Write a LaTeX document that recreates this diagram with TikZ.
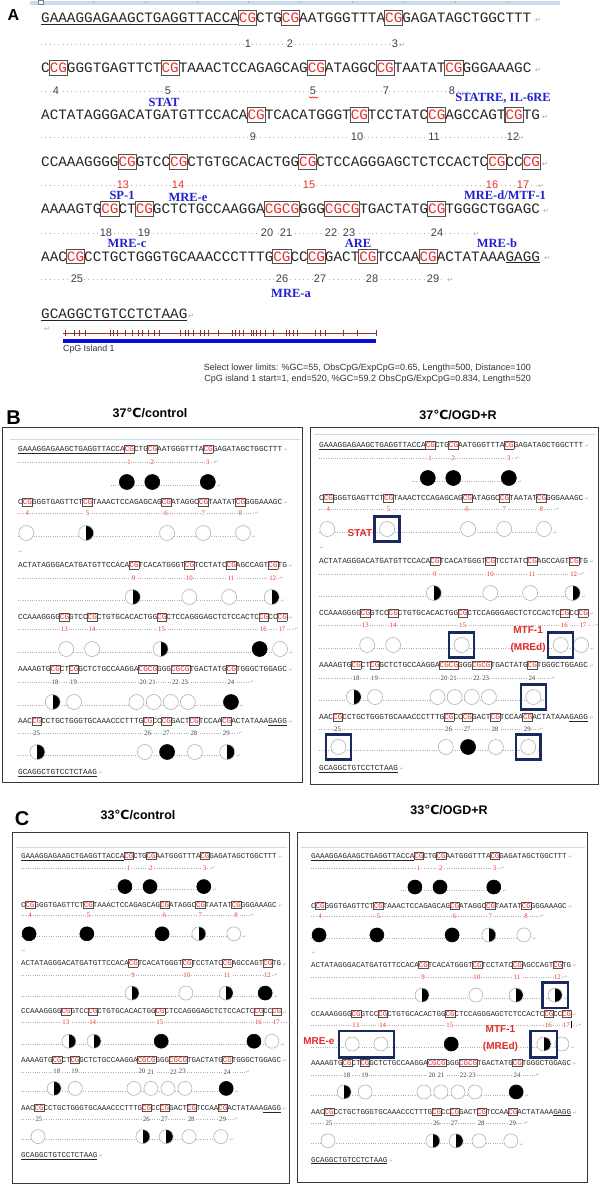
\documentclass[tikz,border=0pt]{standalone}
\usepackage{fontspec}
\setmainfont{Liberation Serif}
\newfontfamily\seqf{Liberation Mono}
\newfontfamily\sansf{Liberation Sans}
\newfontfamily\symf{DejaVu Sans}
\usetikzlibrary{fit,decorations.pathmorphing}
\definecolor{cgred}{HTML}{E8302A}
\definecolor{labred}{HTML}{E52A2A}
\definecolor{lblblue}{HTML}{2020D0}
\definecolor{navy}{HTML}{1B2A5E}
\definecolor{boxgray}{HTML}{505050}
\definecolor{dotgray}{HTML}{B0B0B0}
\definecolor{numgray}{HTML}{404040}
\definecolor{ltblue}{HTML}{C8DCF0}
\definecolor{rulerred}{HTML}{8B3030}
\definecolor{barblue}{HTML}{0A0ADC}

\newcommand\cgx[1]{\rlap{\color{boxgray}\setlength\fboxsep{0pt}\setlength\fboxrule{0.075em}\kern-0.075em\fbox{\rule[-0.13em]{0pt}{0.92em}\phantom{#1}}}\textcolor{cgred}{#1}}

\tikzset{
 seqA/.style={anchor=base west, inner sep=0, font=\seqf\fontsize{14.33}{16}\selectfont, text=black!85},
 numA/.style={font=\sansf\fontsize{11}{11}\selectfont, text=numgray, fill=white, inner sep=0.4pt},
 numAr/.style={numA, text=cgred},
 dotsA/.style={dotgray, line width=0.8pt, dash pattern=on 0.8pt off 3.5pt},
 retA/.style={font=\symf\fontsize{7}{7}\selectfont, text=gray!70, inner sep=0},
 blab/.style={font=\bfseries\fontsize{12.5}{12.5}\selectfont, text=lblblue, inner sep=0},
 mseq/.style={anchor=base west, inner sep=0, font=\seqf\fontsize{\mfs}{\mfs}\selectfont, text=black!85},
 mnum/.style={font=\fontsize{6.8}{6.8}\selectfont, text=numgray, fill=white, inner sep=0.4pt},
 mnumr/.style={mnum, text=cgred},
 mdots/.style={dotgray, line width=0.5pt, dash pattern=on 0.5pt off 1.8pt},
 mret/.style={font=\symf\fontsize{4.5}{4.5}\selectfont, text=gray!70, inner sep=0},
 cO/.style={circle, inner sep=0, minimum size=\csz, draw=gray!60, line width=0.6pt, fill=white},
 cF/.style={circle, inner sep=0, minimum size=\csz, draw=black, line width=0.6pt, fill=black},
 cH/.style={cO, path picture={\fill[black] (path picture bounding box.north) rectangle (path picture bounding box.south east);}},
 hl/.style={draw=navy, line width=2.4pt, inner sep=4.6pt, rectangle},
 redlab/.style={font=\sansf\bfseries\fontsize{10}{10}\selectfont, text=labred, inner sep=0},
 panelbox/.style={draw=gray!45!black, line width=0.9pt},
 ptitle/.style={font=\sansf\bfseries\fontsize{12.5}{12.5}\selectfont, inner sep=0},
 plet/.style={font=\sansf\bfseries\fontsize{20}{20}\selectfont, inner sep=0},
 ltline/.style={ltblue, line width=0.8pt},
}

\newcommand\crow[5]{%
 \draw[mdots] (#2,#1+3) -- (#3,#1+3);
 \foreach \c/\t [count=\i] in {#4}{%
   \edef\tmp{\noexpand\node[c\t] (#5c\i) at (\c,#1) {};}\tmp}%
 \node[mret] (#5r) at (#3+2.4,#1+4) {↵};
}

\newcommand\minibase{%
\node[mseq] (s1) at (0,2.6) {\underline{GAAAGGAGAAGCTGAGGTTACCA}\cgx{CG}CTG\cgx{CG}AATGGGTTTA\cgx{CG}GAGATAGCTGGCTTT};
\node[mret] (s1r) at (57.9,1.5) {↵};
\draw[mdots] (0,13) -- (42.3,13);
\foreach \c/\n in {24/1,29/2,41/3}{\node[mnumr] (m1n\n) at (\c,13) {\n};}
\node[mret] (m1r) at (42.9,13) {↵};
\node[mseq] (s2) at (0,55.6) {C\cgx{CG}GGGTGAGTTCT\cgx{CG}TAAACTCCAGAGCAG\cgx{CG}ATAGGC\cgx{CG}TAATAT\cgx{CG}GGGAAAGC};
\node[mret] (s2r) at (57.9,54.5) {↵};
\draw[mdots] (0,64) -- (51,64);
\foreach \c/\n in {2/4,15/5,32/6,40/7,48/8}{\node[mnumr] (m2n\n) at (\c,64) {\n};}
\node[mret] (m2r) at (51.6,64) {↵};
\node[mret] (blank) at (0.6,103) {↵};
\node[mseq] (s3) at (0,118.6) {ACTATAGGGACATGATGTTCCACA\cgx{CG}TCACATGGGT\cgx{CG}TCCTATC\cgx{CG}AGCCAGT\cgx{CG}TG};
\node[mret] (s3r) at (58.9,117.5) {↵};
\draw[mdots] (0,129) -- (56.3,129);
\foreach \c/\n in {25/9,37/10,46/11,55/12}{\node[mnumr] (m3n\n) at (\c,129) {\n};}
\node[mret] (m3r) at (56.9,129) {↵};
\node[mseq] (s4) at (0,170.6) {CCAAAGGGG\cgx{CG}GTCC\cgx{CG}CTGTGCACACTGG\cgx{CG}CTCCAGGGAGCTCTCCACTC\cgx{CG}CC\cgx{CG}};
\node[mret] (s4r) at (58.9,169.5) {↵};
\draw[mdots] (0,180) -- (59.5,180);
\foreach \c/\n in {10/13,16/14,31/15,53/16,57/17}{\node[mnumr] (m4n\n) at (\c,180) {\n};}
\node[mret] (m4r) at (60.1,180) {↵};
\node[mseq] (s5) at (0,222.6) {AAAAGTG\cgx{CG}CT\cgx{CG}GCTCTGCCAAGGA\cgx{CGCG}GGG\cgx{CGCG}TGACTATG\cgx{CG}TGGGCTGGAGC};
\node[mret] (s5r) at (58.9,221.5) {↵};
\draw[mdots] (0,233) -- (50,233);
\foreach \c/\n in {8/18,12/19,27/20,29/21,34/22,36/23,46/24}{\node[mnum] (m5n\n) at (\c,233) {\n};}
\node[mret] (m5r) at (50.6,233) {↵};
\node[mseq] (s6) at (0,274.6) {AAC\cgx{CG}CCTGCTGGGTGCAAACCCTTTG\cgx{CG}CC\cgx{CG}GACT\cgx{CG}TCCAA\cgx{CG}ACTATAAA\underline{GAGG}};
\node[mret] (s6r) at (58.9,273.5) {↵};
\draw[mdots] (0,284) -- (47.5,284);
\foreach \c/\n in {4/25,28/26,32/27,38/28,45/29}{\node[mnum] (m6n\n) at (\c,284) {\n};}
\node[mret] (m6r) at (48.1,284) {↵};
\node[mseq] (s7) at (0,325.6) {\underline{GCAGGCTGTCCTCTAAG}};
\node[mret] (s7r) at (17.9,324.5) {↵};
}

\begin{document}
\begin{tikzpicture}[x=1pt,y=-1pt]
\useasboundingbox (0,0) rectangle (600,1185);
\fill[white] (0,0) rectangle (600,1185);

%%%%%%%%%%%%%%%% Panel A
\node[plet, font=\sansf\bfseries\fontsize{16}{16}\selectfont] (labA) at (13.5,15) {A};
\fill[ltblue] (30,1) rectangle (560,5);
\foreach \x in {93,145,197,248,300,352,403,455,507}{\draw[gray!60, line width=0.5pt] (\x,1.5) -- (\x,3.5);}
\draw[gray, fill=white, line width=0.5pt] (38.5,0.3) rectangle (43,3.8);

\node[seqA] (a1) at (41,22.7) {\underline{GAAAGGAGAAGCTGAGGTTACCA}\cgx{CG}CTG\cgx{CG}AATGGGTTTA\cgx{CG}GAGATAGCTGGCTTT};
\node[seqA] (a2) at (41,72.7) {C\cgx{CG}GGGTGAGTTCT\cgx{CG}TAAACTCCAGAGCAG\cgx{CG}ATAGGC\cgx{CG}TAATAT\cgx{CG}GGGAAAGC};
\node[seqA] (a3) at (41,119.7) {ACTATAGGGACATGATGTTCCACA\cgx{CG}TCACATGGGT\cgx{CG}TCCTATC\cgx{CG}AGCCAGT\cgx{CG}TG};
\node[seqA] (a4) at (41,166.7) {CCAAAGGGG\cgx{CG}GTCC\cgx{CG}CTGTGCACACTGG\cgx{CG}CTCCAGGGAGCTCTCCACTC\cgx{CG}CC\cgx{CG}};
\node[seqA] (a5) at (41,213.7) {AAAAGTG\cgx{CG}CT\cgx{CG}GCTCTGCCAAGGA\cgx{CGCG}GGG\cgx{CGCG}TGACTATG\cgx{CG}TGGGCTGGAGC};
\node[seqA] (a6) at (41,261) {AAC\cgx{CG}CCTGCTGGGTGCAAACCCTTTG\cgx{CG}CC\cgx{CG}GACT\cgx{CG}TCCAA\cgx{CG}ACTATAAA\underline{GAGG}};
\node[seqA] (a7) at (41,318.7) {\underline{GCAGGCTGTCCTCTAAG}};
\node[retA] (a1r) at (538,20) {↵};
\node[retA] (a2r) at (538,70) {↵};
\node[retA] (a3r) at (545,117) {↵};
\node[retA] (a4r) at (545,164) {↵};
\node[retA] (a5r) at (546,211) {↵};
\node[retA] (a6r) at (547,258) {↵};
\node[retA] (a7r) at (191,316) {↵};
\node[retA] (a8r) at (47,329) {↵};

% number rows A
\draw[dotsA] (41,44) -- (397,44);
\foreach \x/\n [count=\i] in {248/1,290/2,395/3}{\node[numA] (na1-\i) at (\x,44) {\n};}
\node[retA] (na1r) at (402,45) {↵};
\draw[dotsA] (41,91) -- (470,91);
\foreach \x/\n [count=\i] in {56/4,168/5,313/5,386/7,452/8}{\node[numA] (na2-\i) at (\x,91) {\n};}
\draw[red, line width=0.5pt, decorate, decoration={snake, amplitude=0.7pt, segment length=2.6pt}] (309,97.5) -- (318,97.5);
\draw[dotsA] (41,137) -- (514,137);
\foreach \x/\n [count=\i] in {253/9,357/10,434/11,513/12}{\node[numA] (na3-\i) at (\x,137) {\n};}
\node[retA] (na3r) at (521,138) {↵};
\draw[dotsA] (41,185) -- (536,185);
\foreach \x/\n [count=\i] in {123/13,178/14,309/15,492/16,523/17}{\node[numAr] (na4-\i) at (\x,184.5) {\n};}
\node[retA] (na4r) at (541,186) {↵};
\draw[dotsA] (41,233) -- (470,233);
\foreach \x/\n [count=\i] in {106/18,144/19,267/20,286/21,331/22,349/23,437/24}{\node[numA] (na5-\i) at (\x,232.5) {\n};}
\node[retA] (na5r) at (476,234) {↵};
\draw[dotsA] (41,279) -- (445,279);
\foreach \x/\n [count=\i] in {77/25,282/26,320/27,372/28,433/29}{\node[numA] (na6-\i) at (\x,279) {\n};}
\node[retA] (na6r) at (450,280) {↵};

% blue labels
\node[blab] (lSTAT) at (164,102) {STAT};
\node[blab] (lSTATRE) at (503,98) {STATRE, IL-6RE};
\node[blab] (lSP1) at (122,195.5) {SP-1};
\node[blab] (lMREe) at (188,197) {MRE-e};
\node[blab] (lMREd) at (505,195.5) {MRE-d/MTF-1};
\node[blab] (lMREc) at (127,243) {MRE-c};
\node[blab] (lARE) at (358,243) {ARE};
\node[blab] (lMREb) at (497,243) {MRE-b};
\node[blab] (lMREa) at (291,293) {MRE-a};

% CpG island ruler
\draw[rulerred, line width=0.6pt] (63,333) -- (376,333);
\foreach \x in {65,74,79,85,110,113,117,125,132,138,142,148,154,159,180,185,188,193,200,204,208,218,232,235,239,243,251,253,256,260,265,273,286,289,293,297,315,320,325,343,357,376}{\draw[rulerred, line width=0.6pt] (\x,330) -- (\x,336);}
\fill[barblue] (63,339.3) rectangle (376,343.3);
\node[font=\sansf\fontsize{8.8}{8.8}\selectfont, text=black!80, anchor=west, inner sep=0] (cpgl) at (63,349.5) {CpG Island 1};
\node[font=\sansf\fontsize{9}{9}\selectfont, text=black!80, anchor=east, inner sep=0] (sel1) at (531,368.5) {Select lower limits: \%GC=55, ObsCpG/ExpCpG=0.65, Length=500, Distance=100};
\node[font=\sansf\fontsize{9}{9}\selectfont, text=black!80, anchor=east, inner sep=0] (sel2) at (531,379.5) {CpG island 1 start=1, end=520, \%GC=59.2 ObsCpG/ExpCpG=0.834, Length=520};

%%%%%%%%%%%%%%%% Panel B
\node[plet] (labB) at (13.5,417.5) {B};
\node[ptitle] (tB1) at (150,413) {37{\symf ℃}/control};
\node[ptitle] (tB2) at (458,415) {37{\symf ℃}/OGD+R};
\draw[panelbox] (2,427) rectangle (302,782);
\draw[panelbox] (310,427) rectangle (598,784);
\draw[ltline] (10,439) -- (300,439);
\draw[ltline] (314,434) -- (596,434);

\begin{scope}[shift={(18,449)}, x=4.63pt, y=-1pt]
 \def\mfs{7.72}\def\csz{15pt}
 \minibase
 \crow{33}{20}{41}{23.5/F,29/F,41/F}{bl1}
 \crow{84}{0}{48.6}{1.8/O,14.7/H,32.2/O,40/O,48.6/O}{bl2}
 \crow{148}{0}{54.8}{24.8/H,37/O,45.6/O,54.8/H}{bl3}
 \crow{200}{0}{56.6}{10.4/O,16/O,30.8/H,52.2/F,56.6/O}{bl4}
 \crow{253}{0}{46}{7.5/H,12.1/O,25.6/O,29.3/O,33/O,36.7/O,46/F}{bl5}
 \crow{303}{0}{45.2}{4.2/H,27.4/O,32.2/F,38.2/O,45.2/H}{bl6}
\end{scope}

\begin{scope}[shift={(319,445)}, x=4.63pt, y=-1pt]
 \def\mfs{7.72}\def\csz{15pt}
 \minibase
 \crow{33}{20}{41}{23.5/F,29/F,41/F}{br1}
 \crow{84}{0}{48.6}{1.8/O,14.7/O,32.2/O,40/O,48.6/O}{br2}
 \crow{148}{0}{54.8}{24.8/H,37/O,45.6/O,54.8/H}{br3}
 \crow{200}{0}{56.6}{10.4/O,16/O,30.8/O,52.2/O,56.6/O}{br4}
 \crow{252}{0}{46}{7.5/H,12.1/O,25.6/O,29.3/O,33/O,36.7/O,46.3/O}{br5}
 \crow{302}{0}{45.2}{4.2/O,27.4/O,32.2/F,38.2/O,45.2/O}{br6}
\end{scope}
\node[hl, fit=(br2c2)] (hSTAT) {};
\node[redlab, anchor=east] (tSTAT) at ([xshift=-1pt,yshift=-4pt]hSTAT.west) {STAT};
\node[hl, fit=(br4c3)] (h15) {};
\node[hl, fit=(br4c4)] (h16) {};
\node[redlab] (tMTF) at ([xshift=-19pt,yshift=15pt]h16.west) {MTF-1};
\node[redlab] (tMREd) at ([xshift=-19pt,yshift=-3pt]h16.west) {(MREd)};
\node[hl, fit=(br5c7)] (h24) {};
\node[hl, fit=(br6c1)] (h25) {};
\node[hl, fit=(br6c5)] (h29) {};

%%%%%%%%%%%%%%%% Panel C
\node[plet] (labC) at (22,819) {C};
\node[ptitle] (tC1) at (138,815) {33{\symf ℃}/control};
\node[ptitle] (tC2) at (449,810) {33{\symf ℃}/OGD+R};
\draw[panelbox] (12,832) rectangle (289,1183);
\draw[panelbox] (297,832) rectangle (587,1182);
\draw[ltline] (16,847) -- (287,847);
\draw[ltline] (301,847) -- (585,847);

\begin{scope}[shift={(21,856)}, x=4.48pt, y=-0.926pt]
 \def\mfs{7.47}\def\csz{14pt}
 \minibase
 \crow{33}{20}{40.8}{23.2/F,28.8/F,40.8/F}{cl1}
 \crow{84}{0}{47.5}{1.8/F,14.7/F,31.5/F,39.7/H,47.5/O}{cl2}
 \crow{148}{0}{54.5}{24.8/H,36.8/O,45.8/H,54.5/F}{cl3}
 \crow{200}{0}{56}{10.7/H,16.3/H,31.3/F,52/F,56/O}{cl4}
 \crow{251}{0}{45.8}{7.4/H,12.1/O,25.2/O,29/O,32.8/O,36.6/O,45.8/F}{cl5}
 \crow{303}{0}{44.6}{3.8/O,27.2/H,32.4/H,37.5/O,44.6/O}{cl6}
\end{scope}

\begin{scope}[shift={(311,856)}, x=4.48pt, y=-0.94pt]
 \def\mfs{7.47}\def\csz{14pt}
 \minibase
 \crow{33}{20}{40.8}{23.2/F,28.8/F,40.8/F}{cr1}
 \crow{84}{0}{47.5}{1.8/F,14.7/F,31.5/F,39.7/H,47.5/O}{cr2}
 \crow{148}{0}{54.5}{24.8/H,36.8/O,45.8/H,54.5/H}{cr3}
 \crow{200}{0}{56}{9.2/O,15.6/O,31.3/F,52/H,56/O}{cr4}
 \crow{251}{0}{45.8}{7.4/H,12.1/O,25.2/O,29/O,32.8/O,36.6/O,45.8/F}{cr5}
 \crow{303}{0}{44.6}{3.8/O,27.2/H,32.4/H,37.5/O,44.6/O}{cr6}
\end{scope}
\node[hl, inner sep=5.3pt, fit=(cr3c4)] (h12c) {};
\node[hl, inner sep=6pt, fit=(cr4c1)(cr4c2)] (hMREe) {};
\node[redlab, anchor=east] (tMREe) at ([xshift=-3pt,yshift=3pt]hMREe.west) {MRE-e};
\node[hl, inner sep=6pt, fit=(cr4c4)] (h16c) {};
\node[redlab] (tMTFc) at ([xshift=-29pt,yshift=15pt]h16c.west) {MTF-1};
\node[redlab] (tMREdc) at ([xshift=-29pt,yshift=-3pt]h16c.west) {(MREd)};
\draw[black, line width=0.8pt] (571,1021) -- (571,1028);
\end{tikzpicture}
\end{document}
